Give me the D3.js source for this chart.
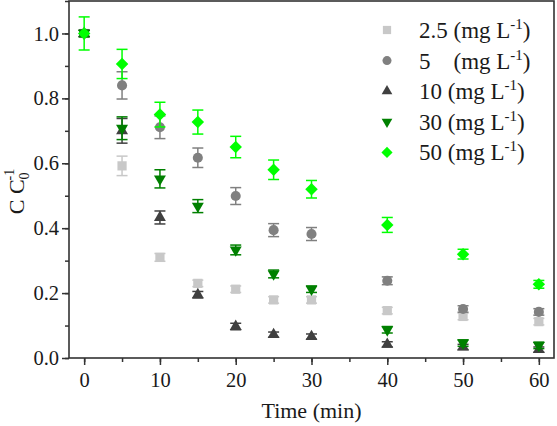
<!DOCTYPE html>
<html>
<head>
  <meta charset="utf-8">
  <title>C/C0 vs time</title>
  <style>
    body { margin: 0; background: #fff; }
    text { font-family: "Liberation Serif", "Times New Roman", serif; fill: #1a1a1a; }
  </style>
</head>
<body>
  <svg width="557" height="426"></svg>
  <script src="https://cdn.jsdelivr.net/npm/d3@7/dist/d3.min.js"></script>
  <script>
  // 1. data
  var times = [0, 5, 10, 15, 20, 25, 30, 40, 50, 60];
  var seriesNames = ["2.5", "5", "10", "30", "50"];
  var c25 = [1.0, 0.592, 0.31, 0.23, 0.212, 0.179, 0.179, 0.146, 0.128, 0.112];
  var e25 = [0.01, 0.03, 0.012, 0.01, 0.01, 0.01, 0.01, 0.01, 0.01, 0.01];
  var c5 = [1.0, 0.84, 0.711, 0.617, 0.499, 0.394, 0.382, 0.238, 0.151, 0.142];
  var e5 = [0.01, 0.042, 0.035, 0.03, 0.026, 0.02, 0.02, 0.012, 0.01, 0.01];
  var c10 = [1.0, 0.70, 0.433, 0.195, 0.097, 0.072, 0.066, 0.042, 0.034, 0.026];
  var e10 = [0.01, 0.038, 0.02, 0.01, 0.01, 0.008, 0.008, 0.008, 0.008, 0.008];
  var c30 = [1.0, 0.708, 0.552, 0.468, 0.333, 0.259, 0.212, 0.087, 0.046, 0.039];
  var e30 = [0.01, 0.035, 0.028, 0.02, 0.015, 0.012, 0.01, 0.01, 0.01, 0.01];
  var c50 = [1.0, 0.906, 0.75, 0.727, 0.65, 0.58, 0.52, 0.41, 0.32, 0.227];
  var e50 = [0.051, 0.045, 0.038, 0.037, 0.033, 0.03, 0.027, 0.023, 0.015, 0.012];
  var xTicks = [0, 10, 20, 30, 40, 50, 60];
  var yTicks = [0.0, 0.2, 0.4, 0.6, 0.8, 1.0];

  var values = [c25, c5, c10, c30, c50];
  var errors = [e25, e5, e10, e30, e50];
  var colors = ["#c8c8c8", "#808080", "#404040", "#008000", "#00ff00"];

  // marker shapes
  var shapes = [
    { type: d3.symbolSquare, size: 85, rot: 0 },
    { type: d3.symbolCircle, size: 80, rot: 0 },
    { type: d3.symbolTriangle, size: 62, rot: 0 },
    { type: d3.symbolTriangle, size: 62, rot: 180 },
    { type: d3.symbolSquare, size: 78, rot: 45 }
  ];

  // 2. layout
  var svg = d3.select("svg");
  var margin = { top: 1, right: 3, bottom: 68, left: 69 };
  var width = 557 - margin.left - margin.right;
  var height = 426 - margin.top - margin.bottom;

  var x = d3.scaleLinear().domain([-2, 62]).range([0, width]);
  var y = d3.scaleLinear().domain([0, 1.1]).range([height, 0]);

  var g = svg.append("g").attr("transform", "translate(" + margin.left + "," + margin.top + ")");

  // 3. axes (major + minor ticks, outward)
  var axisColor = "#333";
  var xMinor = d3.range(0, 61, 5);
  var yMinor = d3.range(0, 1.101, 0.1);

  var xAxisMinor = g.append("g").attr("transform", "translate(0," + height + ")")
    .call(d3.axisBottom(x).tickValues(xMinor).tickSize(4).tickFormat(""));
  var yAxisMinor = g.append("g")
    .call(d3.axisLeft(y).tickValues(yMinor).tickSize(4).tickFormat(""));

  var xAxis = g.append("g").attr("transform", "translate(0," + height + ")")
    .call(d3.axisBottom(x).tickValues(xTicks).tickSize(7).tickPadding(7).tickFormat(d3.format("d")));
  var yAxis = g.append("g")
    .call(d3.axisLeft(y).tickValues(yTicks).tickSize(7).tickPadding(3).tickFormat(d3.format(".1f")));

  [xAxisMinor, yAxisMinor, xAxis, yAxis].forEach(function(a) {
    a.select(".domain").remove();
    a.selectAll("line").attr("stroke", axisColor).attr("stroke-width", 1.5);
    a.selectAll("text").style("font-size", "20.5px").style("font-family", "Liberation Serif, serif").attr("fill", "#1a1a1a");
  });

  // frame
  g.append("rect")
    .attr("x", 0).attr("y", 0)
    .attr("width", width).attr("height", height)
    .attr("fill", "none")
    .attr("stroke", axisColor)
    .attr("stroke-width", 1.6);

  // 4. error bars and markers
  var cap = 5.5;
  values.forEach(function(vals, s) {
    var pts = times.map(function(t, i) { return { t: t, v: vals[i], e: errors[s][i] }; });
    var sg = g.append("g");
    var eb = sg.selectAll("g.eb").data(pts).enter().append("g")
      .attr("stroke", colors[s]).attr("stroke-width", 1.5);
    eb.append("line")
      .attr("x1", function(d) { return x(d.t); }).attr("x2", function(d) { return x(d.t); })
      .attr("y1", function(d) { return y(d.v + d.e); }).attr("y2", function(d) { return y(d.v - d.e); });
    eb.append("line")
      .attr("x1", function(d) { return x(d.t) - cap; }).attr("x2", function(d) { return x(d.t) + cap; })
      .attr("y1", function(d) { return y(d.v + d.e); }).attr("y2", function(d) { return y(d.v + d.e); });
    eb.append("line")
      .attr("x1", function(d) { return x(d.t) - cap; }).attr("x2", function(d) { return x(d.t) + cap; })
      .attr("y1", function(d) { return y(d.v - d.e); }).attr("y2", function(d) { return y(d.v - d.e); });

    var sym = d3.symbol().type(shapes[s].type).size(shapes[s].size);
    sg.selectAll("path.pt").data(pts).enter().append("path")
      .attr("d", sym)
      .attr("fill", colors[s])
      .attr("transform", function(d) {
        return "translate(" + x(d.t) + "," + y(d.v) + ") rotate(" + shapes[s].rot + ")";
      });
  });

  // 5. legend
  var legend = svg.append("g").attr("transform", "translate(387,30)");
  seriesNames.forEach(function(name, s) {
    var row = legend.append("g").attr("transform", "translate(0," + (s * 30.6) + ")");
    row.append("path")
      .attr("d", d3.symbol().type(shapes[s].type).size(shapes[s].size * 0.8))
      .attr("fill", colors[s])
      .attr("transform", "rotate(" + shapes[s].rot + ")");
    var t = row.append("text").attr("x", 32).attr("y", 8).style("font-size", "23px");
    t.append("tspan").text(name + (name === "5" ? "\u2002\u2002" : " ") + "(mg L");
    t.append("tspan").attr("dy", -9).style("font-size", "15px").text("-1");
    t.append("tspan").attr("dy", 9).text(")");
  });

  // 6. axis titles
  svg.append("text")
    .attr("x", margin.left + x(30)).attr("y", 418)
    .attr("text-anchor", "middle")
    .style("font-size", "22px")
    .text("Time (min)");

  var yl = svg.append("text")
    .attr("transform", "translate(24," + (margin.top + height / 2 + 12) + ") rotate(-90)")
    .attr("text-anchor", "middle")
    .style("font-size", "22px");
  yl.append("tspan").text("C C");
  yl.append("tspan").attr("dy", 5).style("font-size", "14px").text("0");
  yl.append("tspan").attr("dx", -8).attr("dy", -15).style("font-size", "14px").text("-1");
  </script>
</body>
</html>
